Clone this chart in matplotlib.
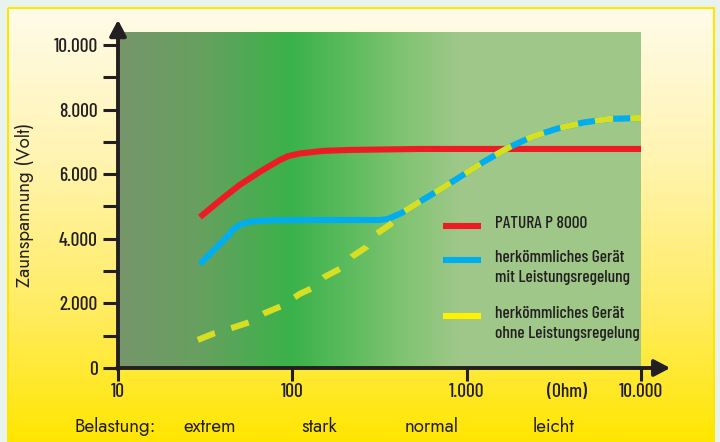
import numpy as np
import matplotlib
matplotlib.use("Agg")
import matplotlib.pyplot as plt
from matplotlib.colors import LinearSegmentedColormap
from matplotlib.lines import Line2D
from matplotlib.patches import Rectangle

# curves: load resistance (Ohm) -> fence voltage (Volt)
red_ohm = [29.5, 40, 50, 65, 75, 85, 95, 110, 150, 214, 538, 10000]
red_volt = [4670, 5260, 5670, 6070, 6270, 6440, 6560, 6640, 6720, 6750, 6780, 6780]

blue_ohm = [29.5, 42.2, 46, 50, 55, 62.6, 80, 126, 317, 350, 377, 400, 424, 524, 700,
            912, 1250, 1762, 2400, 3410, 4700, 6590, 10000]
blue_volt = [3220, 4060, 4300, 4430, 4510, 4550, 4575, 4580, 4580, 4610, 4680, 4740, 4800,
             5110, 5520, 5910, 6380, 6840, 7170, 7430, 7600, 7710, 7740]

yellow_ohm = [28.7, 35.9, 45.0, 57.0, 69.5, 87.0, 110, 131, 153, 192, 219, 267, 297,
              362, 424, 524, 700, 912, 1250, 1762, 2400, 3410, 4700, 6590, 10000]
yellow_volt = [870, 1080, 1240, 1420, 1700, 1920, 2290, 2480, 2820, 3100, 3440, 3750, 4120,
               4430, 4800, 5110, 5520, 5910, 6380, 6840, 7170, 7430, 7600, 7710, 7740]

y_ticks = [0, 2000, 4000, 6000, 8000, 10000]
y_ticklabels = ["0", "2.000", "4.000", "6.000", "8.000", "10.000"]
x_ticks = [10, 100, 1000, 10000]
x_ticklabels = ["10", "100", "1.000", "10.000"]

legend_labels = ["PATURA P 8000",
                 "herkömmliches Gerät\nmit Leistungsregelung",
                 "herkömmliches Gerät\nohne Leistungsregelung"]
load_labels = ["Belastung:", "extrem", "stark", "normal", "leicht"]

RED = "#ed1c24"
BLUE = "#00aeef"
YELLOW = "#d7df23"
INK = "#231f20"
NARROW = ["Barlow Condensed", "DejaVu Sans"]
ROUND = ["Jost", "DejaVu Sans"]

W, H = 720, 442
fig = plt.figure(figsize=(7.2, 4.42), dpi=100)
fig.patch.set_facecolor("#e9f3ed")


def fpos(x, y):
    return x / W, 1 - y / H


# background panel: cream at the top, yellow at the bottom
bg = fig.add_axes([0, 0, 1, 1], zorder=-2)
bg.set_xlim(0, W)
bg.set_ylim(H, 0)
bg.axis("off")
bg_cmap = LinearSegmentedColormap.from_list(
    "bg", [(0.0, "#fffbea"), (0.35, "#fff4b0"), (0.7, "#ffec60"), (1.0, "#ffe600")])
bg.imshow(np.linspace(0, 1, 256).reshape(-1, 1), cmap=bg_cmap, aspect="auto",
          extent=(8, 714, H, 8), zorder=0)
bg.add_patch(Rectangle((8, 8), 706, H, fill=False, edgecolor="#ffe600", lw=1.5, zorder=1))

# main plot
ax = fig.add_axes([118 / W, 74 / H, 523 / W, 336 / H])
ax.set_facecolor("none")
ax.set_xscale("log")
ax.set_xlim(10, 10000)
ax.set_ylim(0, 10400)

green = LinearSegmentedColormap.from_list(
    "green", [(0.0, "#76966a"), (0.15, "#68a060"), (0.33, "#3ab24a"), (0.45, "#5fbc5f"),
              (0.55, "#82c473"), (0.66, "#a0c88a"), (1.0, "#9ec788")])
ax.imshow(np.linspace(0, 1, 256).reshape(1, -1), cmap=green, aspect="auto",
          extent=(0, 1, 0, 1), transform=ax.transAxes, zorder=0)

ax.plot(red_ohm, red_volt, color=RED, lw=4.4, solid_capstyle="butt",
        solid_joinstyle="round", zorder=3)
ax.plot(blue_ohm, blue_volt, color=BLUE, lw=4.4, solid_capstyle="butt",
        solid_joinstyle="round", zorder=3)
ax.plot(yellow_ohm, yellow_volt, color=YELLOW, lw=4.4, dashes=(3.0, 2.8),
        dash_capstyle="butt", zorder=4)

for s in ax.spines.values():
    s.set_visible(False)

arrow = dict(arrowstyle="-|>,head_length=0.95,head_width=0.5", lw=2.8, color=INK,
             shrinkA=0, shrinkB=0, mutation_scale=10)
ax.annotate("", xy=(0, 1.036), xytext=(0, -0.005), xycoords="axes fraction",
            arrowprops=arrow, annotation_clip=False, zorder=5)
ax.annotate("", xy=(1.056, 0), xytext=(-0.002, 0), xycoords="axes fraction",
            arrowprops=arrow, annotation_clip=False, zorder=5)

ax.set_yticks(range(0, 10001, 1000))
ax.set_yticklabels([y_ticklabels[y_ticks.index(v)] if v in y_ticks else "" for v in range(0, 10001, 1000)])
ax.tick_params(axis="y", direction="out", length=11, width=2.2, color=INK, pad=3.5,
               labelsize=14, labelcolor=INK)
ax.set_xticks(x_ticks)
ax.set_xticklabels(x_ticklabels)
ax.xaxis.set_minor_locator(matplotlib.ticker.NullLocator())
ax.tick_params(axis="x", direction="out", length=9, width=2.2, color=INK, pad=2,
               labelsize=14, labelcolor=INK)
for lab in ax.get_xticklabels() + ax.get_yticklabels():
    lab.set_fontfamily(NARROW)
    lab.set_fontweight(500)

fig.text(*fpos(567, 392), "(Ohm)", family=NARROW, fontweight=500, fontsize=14,
         color=INK, ha="center", va="center")

# legend
swatches = [RED, BLUE, "#fff200"]
rows = [226, 260, 316]
for col, row, lab in zip(swatches, rows, legend_labels):
    x0, y0 = fpos(443, row)
    x1, _ = fpos(481, row)
    fig.add_artist(Line2D([x0, x1], [y0, y0], color=col, lw=4.4, solid_capstyle="butt"))
    fig.text(*fpos(495, row - 10), lab, family=NARROW, fontweight=500, fontsize=12.5,
             color=INK, ha="left", va="top", linespacing=1.45)

fig.text(*fpos(25, 205), "Zaunspannung (Volt)", family=ROUND, fontsize=13.5,
         color=INK, rotation=90, ha="center", va="center")

for lab, xc in zip(load_labels, [115, 210, 319, 432, 554]):
    fig.text(*fpos(xc, 427), lab, family=ROUND, fontsize=13.5, color=INK,
             ha="center", va="center")

fig.savefig("out.png", dpi=100, facecolor=fig.get_facecolor())
